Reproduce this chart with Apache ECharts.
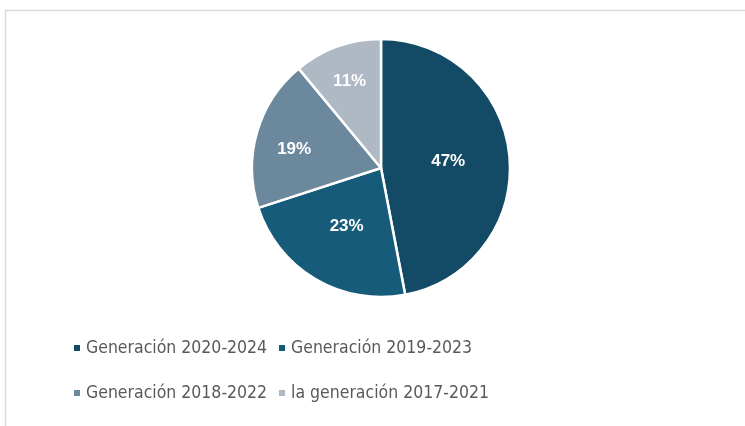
<!DOCTYPE html>
<html><head><meta charset="utf-8">
<script src="https://cdn.jsdelivr.net/npm/echarts@6/dist/echarts.min.js"></script>
<style>html,body{margin:0;padding:0;background:#fff}#c{width:745px;height:426px}</style>
</head><body><div id="c"></div>
<script>
var categories = ['Generación 2020-2024','Generación 2019-2023','Generación 2018-2022','la generación 2017-2021'];
var values = [47, 23, 19, 11];
var colors = ['#134A65','#175B7A','#6B889D','#AEB9C4'];

var chart = echarts.init(document.getElementById('c'), null, {renderer:'canvas'});
var legendPos = [[72,339],[277,339],[72,384],[277,384]];
var legendFont = {fontSize: 17.5, color: '#595959', fontFamily: '"DejaVu Sans Condensed", "Liberation Sans", sans-serif'};
var legends = categories.map(function(n,i){
  return {data:[n], left: legendPos[i][0], top: legendPos[i][1], icon:'rect', itemWidth:8, itemHeight:8, itemGap:6,
    textStyle: legendFont, padding:0, selectedMode:false};
});
var labelStyle = {position:'inside', formatter:'{c}%', color:'#fff', fontWeight:'bold', fontSize:17, fontFamily:'"Liberation Sans", Arial, sans-serif'};
chart.setOption({
  animation:false,
  color: colors,
  graphic:[
    {type:'line', shape:{x1:5, y1:10.5, x2:745, y2:10.5}, style:{stroke:'#d9d9d9', lineWidth:1.5}},
    {type:'line', shape:{x1:5.5, y1:10, x2:5.5, y2:426}, style:{stroke:'#d9d9d9', lineWidth:1.5}}
  ],
  legend: legends,
  series:[{
    type:'pie', center:[381,168], radius:129, startAngle:90, clockwise:true,
    itemStyle:{borderColor:'#fff', borderWidth:2.5},
    label:labelStyle,
    labelLine:{show:false},
    data: categories.map(function(n,i){return {name:n, value:values[i], label:{show:i<2}};})
  },{
    type:'pie', center:[381,168], radius:[50,129], startAngle:90, clockwise:true, silent:true,
    itemStyle:{color:'rgba(0,0,0,0)', borderWidth:0},
    label:labelStyle,
    labelLine:{show:false},
    labelLayout:function(p){ return p.dataIndex===2 ? {dx:2, dy:7, hideOverlap:false} : {hideOverlap:false}; },
    data: categories.map(function(n,i){return {name:n, value:values[i], label:{show:i>=2}};})
  }]
});
</script></body></html>
